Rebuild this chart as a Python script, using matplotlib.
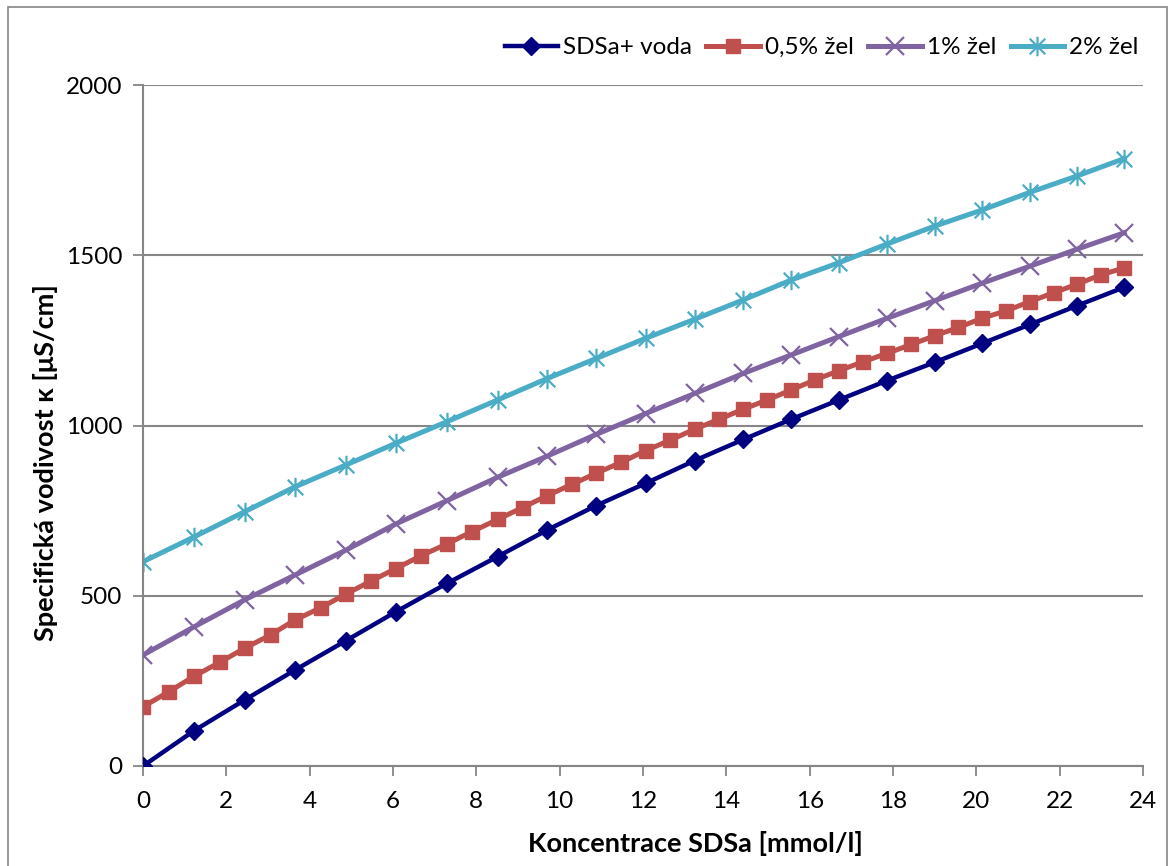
import matplotlib
matplotlib.use("Agg")
import matplotlib.pyplot as plt
from matplotlib.path import Path
from matplotlib.patches import Rectangle

plt.rcParams['font.family'] = ['Lato', 'DejaVu Sans']

# Concentration of SDSa [mmol/l]
x_main = [0, 1.23, 2.44, 3.65, 4.87, 6.07, 7.29, 8.51, 9.70, 10.88, 12.06,
          13.24, 14.41, 15.55, 16.70, 17.86, 19.01, 20.14, 21.29, 22.42, 23.55]
x_fine = [0, 0.62, 1.23, 1.85, 2.44, 3.06, 3.65, 4.27, 4.87, 5.47, 6.07,
          6.68, 7.29, 7.89, 8.51, 9.11, 9.70, 10.29, 10.88, 11.48, 12.06,
          12.65, 13.24, 13.82, 14.41, 14.98, 15.55, 16.13, 16.70, 17.28, 17.86,
          18.44, 19.01, 19.57, 20.14, 20.72, 21.29, 21.86, 22.42, 22.98, 23.55]

# Specific conductivity [uS/cm]
voda = [0, 104, 194, 282, 368, 453, 536, 615, 693, 765, 830,
        897, 959, 1018, 1075, 1132, 1186, 1241, 1297, 1352, 1406]
zel_05 = [174, 218, 264, 305, 346, 385, 429, 465, 505, 543, 580,
          618, 652, 688, 724, 759, 794, 827, 860, 892, 926,
          957, 989, 1018, 1048, 1075, 1104, 1134, 1161, 1187, 1212,
          1238, 1264, 1288, 1315, 1337, 1364, 1390, 1415, 1442, 1463]
zel_1 = [326, 409, 488, 561, 634, 711, 779, 848, 910, 974, 1035,
         1094, 1153, 1207, 1261, 1315, 1367, 1418, 1468, 1518, 1566]
zel_2 = [600, 673, 747, 820, 884, 948, 1011, 1075, 1138, 1197, 1256,
         1312, 1369, 1427, 1478, 1533, 1586, 1633, 1685, 1733, 1784]

labels = ["SDSa+ voda", "0,5% žel", "1% žel", "2% žel"]
x_ticks = list(range(0, 25, 2))
y_ticks = [0, 500, 1000, 1500, 2000]

# Excel-style star: an X crossed by a vertical bar
star = Path([(-1, -1), (1, 1), (-1, 1), (1, -1), (0, -1.25), (0, 1.25)],
            [Path.MOVETO, Path.LINETO, Path.MOVETO, Path.LINETO,
             Path.MOVETO, Path.LINETO])

fig = plt.figure(figsize=(11.71, 8.66), dpi=100)
ax = fig.add_axes([143 / 1171, 1 - 766 / 866, (1143 - 143) / 1171, (766 - 85) / 866])

grid_c = '#868686'
ax.plot(x_main, voda, color='#000080', lw=3.2, marker='D', ms=9,
        mfc='#000080', mec='#000080', label=labels[0], zorder=5)
ax.plot(x_fine, zel_05, color='#C0504D', lw=3.6, marker='s', ms=9.5,
        mfc='#C0504D', mec='#C0504D', label=labels[1], zorder=4)
ax.plot(x_main, zel_1, color='#8064A2', lw=3.6, marker='x', ms=13, mew=1.6,
        mec='#8064A2', label=labels[2], zorder=3)
ax.plot(x_main, zel_2, color='#4BACC6', lw=3.6, marker=star, ms=14, mew=1.6,
        mfc='none', mec='#4BACC6', label=labels[3], zorder=2)

ax.set_xlim(0, 24)
ax.set_ylim(0, 2000)
ax.set_xticks(x_ticks)
ax.set_yticks(y_ticks)
ax.tick_params(axis='both', direction='out', length=7, width=1.3, color=grid_c,
               labelsize=17.5, pad=8)
ax.tick_params(axis='x', pad=11)
ax.grid(axis='y', color=grid_c, lw=1.5)
ax.set_axisbelow(True)
for side in ('top', 'right'):
    ax.spines[side].set_visible(False)
for side in ('left', 'bottom'):
    ax.spines[side].set_color(grid_c)
    ax.spines[side].set_linewidth(1.5)

ax.set_xlabel("Koncentrace SDSa [mmol/l]", fontsize=19.5, fontweight='bold')
ax.set_ylabel("Specifická vodivost κ [μS/cm]", fontsize=19.5, fontweight='bold')
ax.xaxis.set_label_coords(0.552, -0.095)
ax.yaxis.set_label_coords(-0.085, 0.445)

leg = ax.legend(loc='lower right', bbox_to_anchor=(1.005, 1.025), ncol=4, frameon=False,
                fontsize=17.5, handlelength=2.2, handletextpad=0.2, columnspacing=0.6,
                borderaxespad=0)

fig.patches.append(Rectangle((8 / 1171, -0.01), (1167 - 8) / 1171, 1.01 - 7 / 866,
                             transform=fig.transFigure, fill=False,
                             edgecolor='#868686', lw=1.2))

fig.savefig("out.png", dpi=100)
